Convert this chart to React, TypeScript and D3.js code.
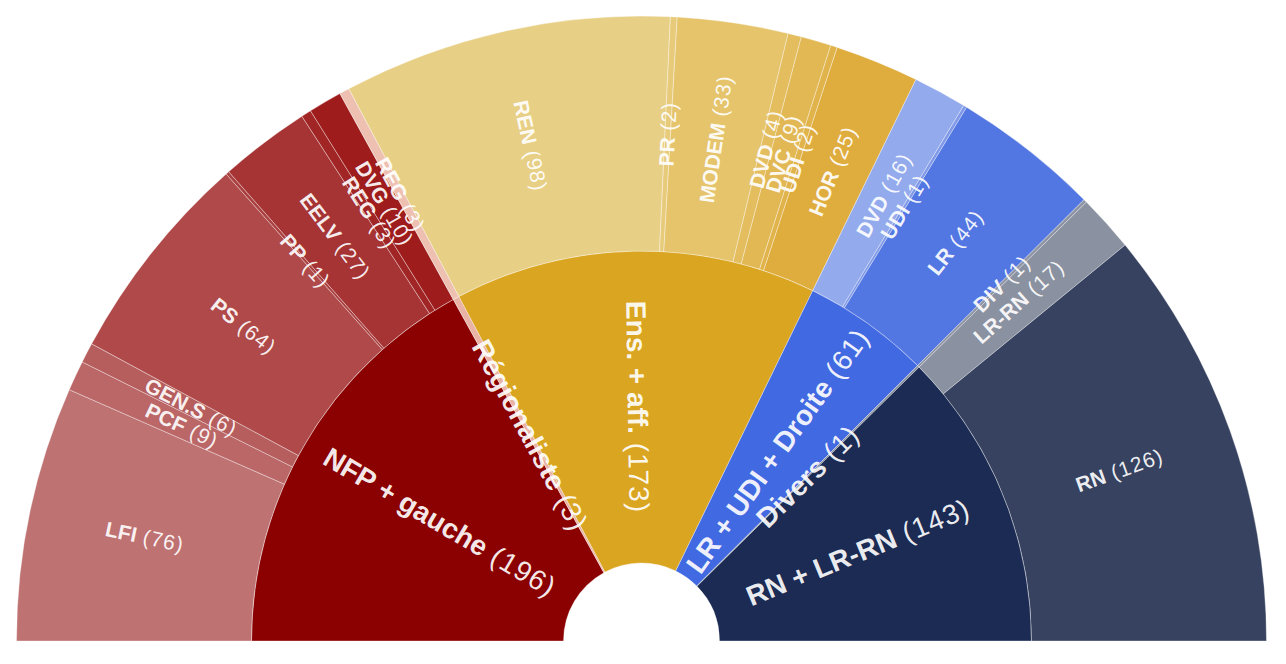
import { useMemo } from "react";
import * as d3 from "d3";

// Inner ring: blocs
const groupNames = ["NFP + gauche", "Régionaliste", "Ens. + aff.", "LR + UDI + Droite", "Divers", "RN + LR-RN"];
const groupColors = ["#8b0000", "#e9b3a6", "#daa520", "#4169e1", "#8c93a2", "#1c2b53"];

// Outer ring: parties (group index, seats)
const partyNames = ["LFI", "PCF", "GEN.S", "PS", "PP", "EELV", "REG", "DVG", "REG", "REN", "PR", "MODEM", "DVD", "DVC", "UDI", "HOR", "DVD", "UDI", "LR", "DIV", "LR-RN", "RN"];
const partyGroup = [0, 0, 0, 0, 0, 0, 0, 0, 1, 2, 2, 2, 2, 2, 2, 2, 3, 3, 3, 4, 5, 5];
const partySeats = [76, 9, 6, 64, 1, 27, 3, 10, 3, 98, 2, 33, 4, 9, 2, 25, 16, 1, 44, 1, 17, 126];
const partyColors = [
  "#bf7272", "#bb6767", "#b65d5d", "#b04a4a", "#ab4040", "#a63434", "#a22525", "#9e1c1c",
  "#edc0b2",
  "#e8cf86", "#e7cb7b", "#e5c46c", "#e3bd5e", "#e2b854", "#e1b34b", "#dfac3e",
  "#93aaec", "#7f99e8", "#5276e2",
  "#8d94a3", "#8a91a0", "#36425f",
];

const W = 1286;
const H = 664;
const cx = 641.5;
const cy = 641;
const radii = [78, 390, 625];

export default function App() {
  const nodes = useMemo(() => {
    const data = {
      name: "root",
      children: groupNames.map((g, gi) => ({
        name: g,
        gi,
        children: partyNames
          .map((p, pi) => ({ name: p, pi, value: partySeats[pi], g: partyGroup[pi] }))
          .filter(p => p.g === gi),
      })),
    };
    const root = d3.hierarchy<any>(data).sum(d => d.value || 0);
    d3.partition<any>().size([Math.PI, 3])(root);
    return root.descendants().filter(d => d.depth > 0);
  }, []);

  const r = d3.scaleLinear().domain([1, 2, 3]).range(radii);
  const arc = d3.arc<any>()
    .startAngle(d => d.x0 - Math.PI / 2)
    .endAngle(d => d.x1 - Math.PI / 2)
    .innerRadius(d => r(d.y0))
    .outerRadius(d => r(d.y1));

  const fill = (d: any) => d.depth === 1 ? groupColors[d.data.gi] : partyColors[d.data.pi];

  const label = (d: any) => {
    const a = ((d.x0 + d.x1) / 2 - Math.PI / 2) * 180 / Math.PI;
    const rad = (r(d.y0) + r(d.y1)) / 2;
    const rot = a > 0 ? a - 90 : a + 90;
    const x = Math.sin(a * Math.PI / 180) * rad;
    const y = -Math.cos(a * Math.PI / 180) * rad;
    return `translate(${x},${y}) rotate(${rot})`;
  };

  return (
    <svg width={W} height={H} style={{ position: "absolute", left: 0, top: 0, background: "#fff" }}
      fontFamily="'Liberation Sans', Arial, sans-serif">
      <g transform={`translate(${cx},${cy})`}>
        {nodes.map((d, i) => (
          <path key={i} d={arc(d) || ""} fill={fill(d)} stroke="#ffffff" strokeOpacity={0.35} strokeWidth={1} />
        ))}
        {nodes.map((d, i) => (
          <text key={"t" + i} transform={label(d)} textAnchor="middle" dy="0.35em"
            fill="#fff" fillOpacity={0.92} fontSize={d.depth === 1 ? 28 : 21}>
            <tspan fontWeight="bold">{d.data.name}</tspan>
            <tspan fontWeight="normal" letterSpacing={1}>{` (${d.value})`}</tspan>
          </text>
        ))}
      </g>
    </svg>
  );
}
